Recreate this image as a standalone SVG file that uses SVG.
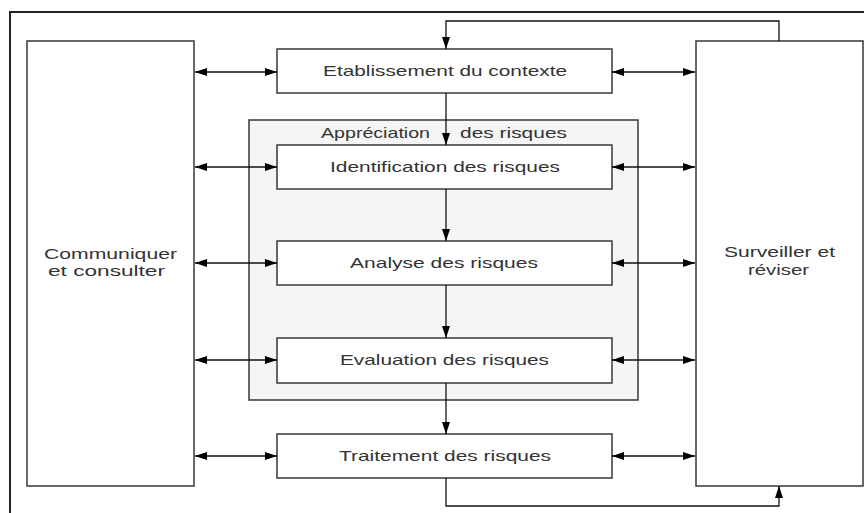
<svg xmlns="http://www.w3.org/2000/svg" width="864" height="513" viewBox="0 0 864 513">
<defs>
<marker id="ah" viewBox="0 0 12 8" refX="12" refY="4" markerWidth="12" markerHeight="8" markerUnits="userSpaceOnUse" orient="auto-start-reverse">
<path d="M0,0 L12,4 L0,8 Z" fill="#000"/>
</marker>
</defs>
<style>
.box{fill:#fff;stroke:#444;stroke-width:1.6}
.grp{fill:#f5f5f5;stroke:#444;stroke-width:1.6}
.frame{fill:none;stroke:#222;stroke-width:2}
.t{font-family:"Liberation Sans",Arial,sans-serif;font-size:15px;fill:#333}
.s{font-size:14px}
.c{stroke:#111;stroke-width:1.3;fill:none}
.a2{marker-start:url(#ah);marker-end:url(#ah)}
.a1{marker-end:url(#ah)}
</style>
<rect width="864" height="513" fill="#fff"/>
<rect class="frame" x="10" y="12" width="870" height="520"/>

<g id="appreciation">
<rect class="grp" x="249" y="120" width="389" height="280"/>
<text class="t"><tspan x="321" y="138" textLength="109" lengthAdjust="spacingAndGlyphs">Appréciation</tspan><tspan x="460" y="138" textLength="107" lengthAdjust="spacingAndGlyphs">des risques</tspan></text>
</g>

<g id="communiquer">
<rect class="box" x="27" y="41" width="167" height="445"/>
<text class="t s" x="44" y="259" textLength="133" lengthAdjust="spacingAndGlyphs">Communiquer</text>
<text class="t s" x="48" y="276" textLength="117" lengthAdjust="spacingAndGlyphs">et consulter</text>
</g>

<g id="surveiller">
<rect class="box" x="696" y="41" width="167" height="445"/>
<text class="t s" x="724" y="257" textLength="111" lengthAdjust="spacingAndGlyphs">Surveiller et</text>
<text class="t s" x="748" y="275" textLength="61" lengthAdjust="spacingAndGlyphs">réviser</text>
</g>

<g id="etablissement">
<rect class="box" x="277" y="49" width="335" height="44"/>
<text class="t" x="323" y="76" textLength="244" lengthAdjust="spacingAndGlyphs">Etablissement du contexte</text>
</g>

<g id="identification">
<rect class="box" x="277" y="145" width="335" height="44"/>
<text class="t" x="330" y="172" textLength="230" lengthAdjust="spacingAndGlyphs">Identification des risques</text>
</g>

<g id="analyse">
<rect class="box" x="277" y="241" width="335" height="44"/>
<text class="t" x="350" y="268" textLength="188" lengthAdjust="spacingAndGlyphs">Analyse des risques</text>
</g>

<g id="evaluation">
<rect class="box" x="277" y="338" width="335" height="45"/>
<text class="t" x="340" y="365" textLength="209" lengthAdjust="spacingAndGlyphs">Evaluation des risques</text>
</g>

<g id="traitement">
<rect class="box" x="277" y="434" width="335" height="44"/>
<text class="t" x="339" y="461" textLength="212" lengthAdjust="spacingAndGlyphs">Traitement des risques</text>
</g>

<g id="connectors">
<line class="c a2" x1="195" y1="72" x2="277" y2="72"/>
<line class="c a2" x1="195" y1="167" x2="277" y2="167"/>
<line class="c a2" x1="195" y1="263" x2="277" y2="263"/>
<line class="c a2" x1="195" y1="360" x2="277" y2="360"/>
<line class="c a2" x1="195" y1="456" x2="277" y2="456"/>
<line class="c a2" x1="612" y1="72" x2="695" y2="72"/>
<line class="c a2" x1="612" y1="167" x2="695" y2="167"/>
<line class="c a2" x1="612" y1="263" x2="695" y2="263"/>
<line class="c a2" x1="612" y1="360" x2="695" y2="360"/>
<line class="c a2" x1="612" y1="456" x2="695" y2="456"/>
<line class="c a1" x1="446" y1="93" x2="446" y2="145"/>
<line class="c a1" x1="446" y1="189" x2="446" y2="241"/>
<line class="c a1" x1="446" y1="285" x2="446" y2="338"/>
<line class="c a1" x1="446" y1="383" x2="446" y2="434"/>
<polyline class="c a1" points="779,41 779,21 446,21 446,49"/>
<polyline class="c a1" points="446,478 446,506 779,506 779,486"/>
</g>
</svg>
